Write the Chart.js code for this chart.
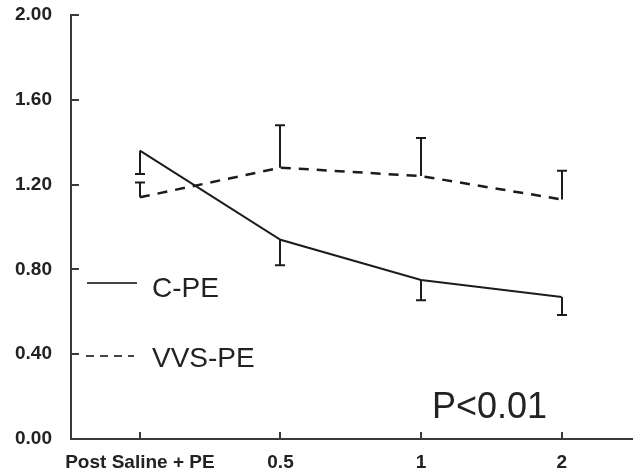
<!DOCTYPE html>
<html>
<head>
<meta charset="utf-8">
<script src="https://cdn.jsdelivr.net/npm/chart.js@4"></script>
<style>
  html, body { margin: 0; padding: 0; background: #fff; }
  #wrap { width: 637px; height: 476px; }
</style>
</head>
<body>
<div id="wrap"><canvas id="chart" width="637" height="476"></canvas></div>
<script>
// categories along x (placed at 0,1,2,3)
const categories = ['Post Saline + PE', '0.5', '1', '2'];
const yTicks = [0, 0.4, 0.8, 1.2, 1.6, 2.0];

// C-PE (solid), error bars drawn downward
const cpeValues = [1.36, 0.94, 0.75, 0.67];
const cpeErr = [0.11, 0.12, 0.095, 0.085];

// VVS-PE (dashed), error bars drawn upward
const vvsValues = [1.14, 1.28, 1.24, 1.13];
const vvsErr = [0.07, 0.20, 0.18, 0.135];

const ink = '#1c1c1c';
const axisColor = '#3a3a3a';
const fontFamily = '"Liberation Sans", Arial, sans-serif';

function toPoints(vals) {
    return vals.map((v, i) => ({ x: i, y: v }));
}

// error bars, inward ticks, legend and p-value
const extras = {
    id: 'extras',
    afterDatasetsDraw(chart) {
        const ctx = chart.ctx;
        const xs = chart.scales.x, ys = chart.scales.y;
        const area = chart.chartArea;
        ctx.save();

        // inward tick marks
        ctx.strokeStyle = axisColor;
        ctx.lineWidth = 2;
        yTicks.forEach(t => {
            const y = Math.round(ys.getPixelForValue(t));
            ctx.beginPath();
            ctx.moveTo(area.left, y);
            ctx.lineTo(area.left + 8, y);
            ctx.stroke();
        });
        categories.forEach((c, i) => {
            const x = Math.round(xs.getPixelForValue(i));
            ctx.beginPath();
            ctx.moveTo(x, area.bottom);
            ctx.lineTo(x, area.bottom - 7);
            ctx.stroke();
        });

        // error bars
        ctx.strokeStyle = ink;
        ctx.lineWidth = 2;
        const bar = (i, from, to) => {
            const x = Math.round(xs.getPixelForValue(i));
            const y0 = ys.getPixelForValue(from);
            const y1 = ys.getPixelForValue(to);
            ctx.beginPath();
            ctx.moveTo(x, y0);
            ctx.lineTo(x, y1);
            ctx.moveTo(x - 5, y1);
            ctx.lineTo(x + 5, y1);
            ctx.stroke();
        };
        cpeValues.forEach((v, i) => bar(i, v, v - cpeErr[i]));
        vvsValues.forEach((v, i) => bar(i, v, v + vvsErr[i]));

        // legend
        ctx.fillStyle = '#222';
        ctx.font = '28px ' + fontFamily;
        ctx.textBaseline = 'middle';
        ctx.strokeStyle = '#444';
        ctx.lineWidth = 2;
        ctx.setLineDash([]);
        ctx.beginPath();
        ctx.moveTo(87, 283);
        ctx.lineTo(137, 283);
        ctx.stroke();
        ctx.fillText('C-PE', 152, 289);
        ctx.setLineDash([8, 6]);
        ctx.beginPath();
        ctx.moveTo(86, 356);
        ctx.lineTo(134, 356);
        ctx.stroke();
        ctx.setLineDash([]);
        ctx.fillText('VVS-PE', 152, 359);

        ctx.font = '36px ' + fontFamily;
        ctx.fillText('P<0.01', 432, 408);
        ctx.restore();
    }
};

new Chart(document.getElementById('chart'), {
    type: 'line',
    data: {
        datasets: [{
            label: 'C-PE',
            data: toPoints(cpeValues),
            borderColor: ink,
            borderWidth: 2,
            pointRadius: 0,
            tension: 0,
            fill: false
        }, {
            label: 'VVS-PE',
            data: toPoints(vvsValues),
            borderColor: ink,
            borderWidth: 2.5,
            borderDash: [10, 8],
            pointRadius: 0,
            tension: 0,
            fill: false
        }]
    },
    options: {
        responsive: false,
        animation: false,
        layout: { padding: { top: 15, right: 5, left: 0, bottom: 0 } },
        plugins: {
            legend: { display: false },
            tooltip: { enabled: false }
        },
        scales: {
            x: {
                type: 'linear',
                min: -0.49,
                max: 3.5,
                afterBuildTicks: s => { s.ticks = categories.map((c, i) => ({ value: i })); },
                afterFit: s => { s.height = 37; },
                ticks: {
                    callback: v => categories[v],
                    color: '#222',
                    padding: 4,
                    maxRotation: 0,
                    autoSkip: false,
                    font: { family: fontFamily, size: 19, weight: 'bold' }
                },
                grid: { display: false },
                border: { display: true, color: axisColor, width: 2 }
            },
            y: {
                min: 0,
                max: 2,
                afterBuildTicks: s => { s.ticks = yTicks.map(v => ({ value: v })); },
                afterFit: s => { s.width = 71; s.paddingTop = 0; s.paddingBottom = 0; },
                ticks: {
                    callback: v => v.toFixed(2),
                    color: '#222',
                    padding: 11,
                    font: { family: fontFamily, size: 19, weight: 'bold' }
                },
                grid: { display: false },
                border: { display: true, color: axisColor, width: 2 }
            }
        }
    },
    plugins: [extras]
});
</script>
</body>
</html>
